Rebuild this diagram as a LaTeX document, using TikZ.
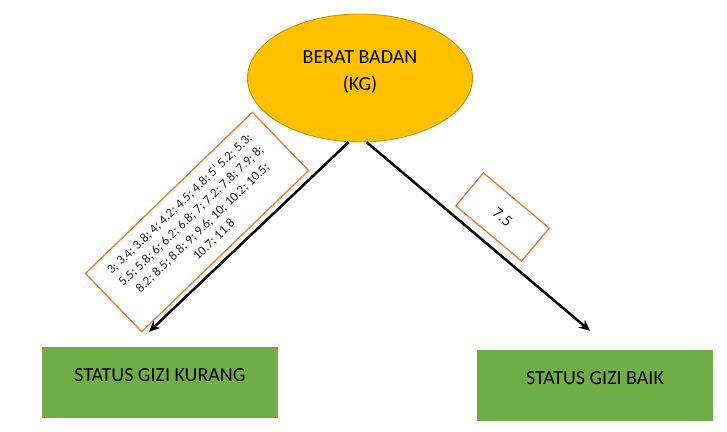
\documentclass[tikz,border=0pt]{standalone}
\usepackage{fontspec}
\setmainfont{Carlito}
\usetikzlibrary{arrows.meta, shapes.geometric}
\definecolor{gold}{HTML}{FFC000}
\definecolor{golddark}{HTML}{BF9000}
\definecolor{leaf}{HTML}{70AD47}
\definecolor{peach}{HTML}{ED7D31}

\begin{document}
\begin{tikzpicture}[x=1pt, y=1pt,
  status/.style={fill=leaf, minimum width=236pt, minimum height=71pt, inner sep=0pt,
    font=\fontsize{20}{24}\selectfont, text height=13pt, text depth=15pt},
  databox/.style={draw=peach, line width=1.3pt, fill=white, inner sep=0pt, align=center,
    text=black!85, font=\fontsize{13}{16.5}\selectfont},
  link/.style={line width=2.5pt, -{Stealth[length=11pt, width=10pt]}}]
  \useasboundingbox (0,0) rectangle (727,431);
  \node[ellipse, fill=gold, draw=golddark, line width=0.8pt, inner sep=0pt,
    minimum width=225pt, minimum height=128pt,
    label={[align=center, font=\fontsize{20}{27}\selectfont, yshift=6pt]center:BERAT BADAN\\(KG)}]
    (berat) at (360,353) {};
  \node[status] (kurang) at (160,48.5) {STATUS GIZI KURANG};
  \node[status] (baik) at (595,45.5) {STATUS GIZI BAIK};
  \node[databox, rotate=44, minimum width=232pt, minimum height=81pt] (daftar) at (197,209)
    {3; 3.4; 3.8; 4; 4.2; 4.5; 4.8; 5' 5.2; 5.3;\\
     5.5; 5.8; 6; 6.2; 6.8; 7; 7.2; 7.8; 7.9; 8;\\
     8.2; 8.5; 8.8; 9; 9.6; 10; 10.2; 10.5;\\
     10.7; 11.8};
  \node[databox, rotate=-40, minimum width=86pt, minimum height=43pt,
    font=\fontsize{16}{18}\selectfont] (nilai) at (502.5,214) {7.5};
  \draw[link] (berat.-100) -- ([xshift=-11pt, yshift=15pt]kurang.north);
  \draw[link] (berat.-84) -- ([xshift=-5pt, yshift=19pt]baik.north);
\end{tikzpicture}
\end{document}
